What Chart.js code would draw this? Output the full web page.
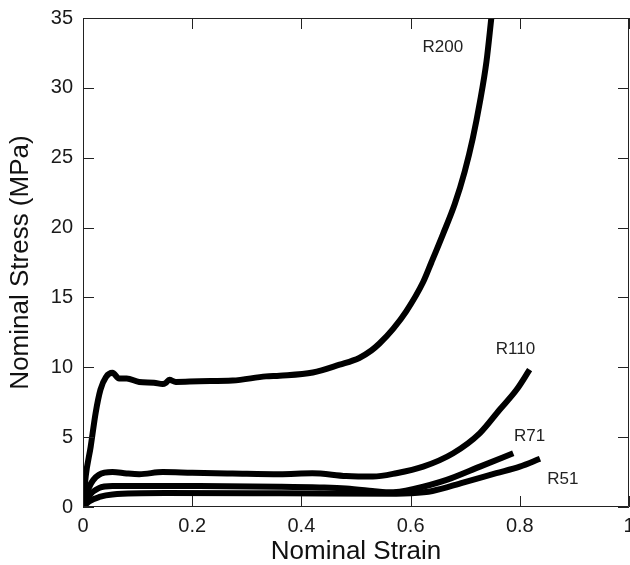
<!DOCTYPE html>
<html>
<head>
<meta charset="utf-8">
<script src="https://cdn.jsdelivr.net/npm/chart.js@4/dist/chart.umd.min.js"></script>
<style>
    body { margin: 0; background: #fff; }
    #wrap { width: 630px; height: 565px; }
</style>
</head>
<body>
<div id="wrap"><canvas id="stressChart" width="630" height="565"></canvas></div>
<script>
// strain / stress readings for each foam density
const strainR200 = [0, 0.005, 0.014, 0.023, 0.032, 0.042, 0.054, 0.066, 0.08, 0.103, 0.13, 0.146, 0.152, 0.158, 0.17, 0.213, 0.274, 0.335, 0.36, 0.421, 0.47, 0.506, 0.528, 0.543, 0.568, 0.592, 0.623, 0.638, 0.659, 0.681, 0.699, 0.714, 0.727, 0.739, 0.748];
const stressR200 = [0, 2.2, 4.3, 6.7, 8.4, 9.3, 9.6, 9.2, 9.2, 8.95, 8.9, 8.8, 8.9, 9.1, 8.95, 9.0, 9.05, 9.35, 9.4, 9.63, 10.19, 10.67, 11.2, 11.7, 12.75, 14.0, 16.1, 17.5, 19.5, 21.7, 24.0, 26.4, 29.0, 31.9, 35.05];

const strainR110 = [0, 0.011, 0.029, 0.054, 0.08, 0.103, 0.146, 0.2, 0.274, 0.36, 0.42, 0.482, 0.531, 0.574, 0.623, 0.678, 0.727, 0.763, 0.794, 0.818];
const stressR110 = [0, 1.4, 2.3, 2.5, 2.4, 2.35, 2.5, 2.45, 2.4, 2.35, 2.42, 2.22, 2.18, 2.42, 2.89, 3.85, 5.29, 6.96, 8.39, 9.83];

const strainR71 = [0, 0.011, 0.029, 0.054, 0.1, 0.213, 0.36, 0.433, 0.482, 0.53, 0.555, 0.58, 0.604, 0.666, 0.727, 0.788];
const stressR71 = [0, 0.8, 1.35, 1.5, 1.5, 1.5, 1.45, 1.4, 1.33, 1.15, 1.05, 1.1, 1.27, 1.94, 2.89, 3.85];

const strainR51 = [0, 0.011, 0.03, 0.054, 0.15, 0.36, 0.574, 0.6, 0.64, 0.696, 0.757, 0.8, 0.837];
const stressR51 = [0, 0.4, 0.72, 0.9, 1.0, 0.98, 0.95, 0.98, 1.15, 1.75, 2.42, 2.89, 3.45];

const seriesNames = ['R200', 'R110', 'R71', 'R51'];
// where each name sits, in data units
const labelX = [0.659, 0.792, 0.818, 0.879];
const labelY = [32.9, 11.28, 5.09, 1.99];

const xTicks = [0, 0.2, 0.4, 0.6, 0.8, 1];
const yTicks = [0, 5, 10, 15, 20, 25, 30, 35];

function toPoints(xs, ys) {
    return xs.map((x, i) => ({ x: x, y: ys[i] }));
}

// box round the plot with ticks pointing inwards, plus the curve names
const frameAndLabels = {
    id: 'frameAndLabels',
    afterDraw(chart) {
        const { ctx, chartArea: a, scales: { x, y } } = chart;
        const len = 11;
        ctx.save();
        ctx.strokeStyle = '#222';
        ctx.lineWidth = 1;
        ctx.beginPath();
        ctx.rect(a.left + 0.5, a.top + 0.5, a.right - a.left - 1, a.bottom - a.top - 1);
        xTicks.forEach(v => {
            const px = Math.round(x.getPixelForValue(v)) + 0.5;
            ctx.moveTo(px, a.bottom);
            ctx.lineTo(px, a.bottom - len);
            ctx.moveTo(px, a.top);
            ctx.lineTo(px, a.top + len);
        });
        yTicks.forEach(v => {
            const py = Math.round(y.getPixelForValue(v)) + 0.5;
            ctx.moveTo(a.left, py);
            ctx.lineTo(a.left + len, py);
            ctx.moveTo(a.right, py);
            ctx.lineTo(a.right - len, py);
        });
        ctx.stroke();

        ctx.fillStyle = '#222';
        ctx.font = '17px "Liberation Sans", Arial, sans-serif';
        ctx.textAlign = 'center';
        ctx.textBaseline = 'middle';
        seriesNames.forEach((name, i) => {
            ctx.fillText(name, x.getPixelForValue(labelX[i]), y.getPixelForValue(labelY[i]));
        });
        ctx.restore();
    }
};

document.addEventListener("DOMContentLoaded", () => {
    const canvas = document.getElementById("stressChart");
    const strainSets = [strainR200, strainR110, strainR71, strainR51];
    const stressSets = [stressR200, stressR110, stressR71, stressR51];

    new Chart(canvas, {
        type: 'line',
        data: {
            datasets: seriesNames.map((name, i) => ({
                label: name,
                data: toPoints(strainSets[i], stressSets[i]),
                borderColor: '#000',
                borderWidth: 6,
                pointRadius: 0,
                cubicInterpolationMode: 'monotone',
                fill: false
            }))
        },
        options: {
            responsive: false,
            animation: false,
            layout: { padding: { top: 18, right: 1, left: 0, bottom: 0 } },
            plugins: {
                legend: { display: false },
                tooltip: { enabled: false }
            },
            scales: {
                x: {
                    type: 'linear',
                    min: 0,
                    max: 1,
                    grid: { display: false, drawTicks: false },
                    border: { display: false },
                    afterFit: s => { s.height = 58; s.paddingLeft = 0; s.paddingRight = 0; },
                    afterBuildTicks: s => { s.ticks = xTicks.map(v => ({ value: v })); },
                    ticks: {
                        padding: 7,
                        color: '#1a1a1a',
                        font: { family: '"Liberation Sans", Arial, sans-serif', size: 20 },
                        callback: v => String(v)
                    },
                    title: {
                        display: true,
                        text: 'Nominal Strain',
                        color: '#111',
                        padding: { top: 0, bottom: 0 },
                        font: { family: '"Liberation Sans", Arial, sans-serif', size: 26, lineHeight: 1 }
                    }
                },
                y: {
                    type: 'linear',
                    min: 0,
                    max: 35,
                    grid: { display: false, drawTicks: false },
                    border: { display: false },
                    afterFit: s => { s.width = 83; s.paddingTop = 0; s.paddingBottom = 0; },
                    afterBuildTicks: s => { s.ticks = yTicks.map(v => ({ value: v })); },
                    ticks: {
                        padding: 10,
                        color: '#1a1a1a',
                        font: { family: '"Liberation Sans", Arial, sans-serif', size: 20 }
                    },
                    title: {
                        display: true,
                        text: 'Nominal Stress (MPa)',
                        color: '#111',
                        padding: { top: 8, bottom: 0 },
                        font: { family: '"Liberation Sans", Arial, sans-serif', size: 26, lineHeight: 1 }
                    }
                }
            }
        },
        plugins: [frameAndLabels]
    });
});
</script>
</body>
</html>
